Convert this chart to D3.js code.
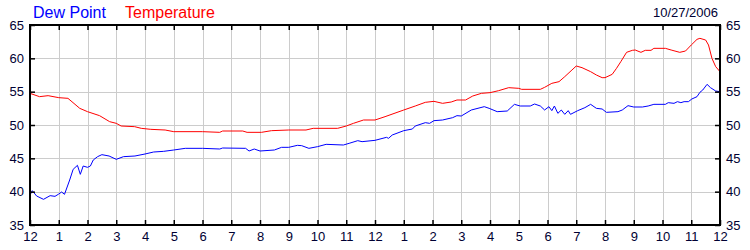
<!DOCTYPE html>
<html>
<head>
<meta charset="utf-8">
<script src="https://cdn.jsdelivr.net/npm/d3@7"></script>
<style>
  body { margin: 0; background: #fff; }
  svg text { font-family: "Liberation Sans", Arial, sans-serif; }
</style>
</head>
<body>
<div id="chart-area"></div>
<script>
// readings: hour of day (0 = midnight) and value in degrees F
var tempHours = [0, 0.33, 0.63, 1, 1.32, 1.73, 2, 2.42, 2.77, 3, 3.17, 3.64, 3.87, 4.2, 4.7, 5, 6,
    6.6, 6.7, 7.4, 7.55, 8.05, 8.4, 9, 9.6, 9.85, 10.7, 11, 11.25, 11.6,
    12, 12.35, 13, 13.4, 13.75, 14.05, 14.35, 14.65, 14.85, 15.15, 15.4, 15.7, 16, 16.3, 16.65, 17, 17.1, 17.75,
    17.9, 18.15, 18.4, 18.6, 18.85, 19, 19.2, 19.5, 19.7, 19.9, 20, 20.25, 20.4, 20.55, 20.75, 20.95, 21.05, 21.25,
    21.4, 21.6, 21.7, 22.1, 22.3, 22.6, 22.8, 23, 23.2, 23.3, 23.5, 23.6, 23.72, 23.85, 24];
var tempValues = [54.75, 54.25, 54.4, 54.1, 54.0, 52.5, 52.0, 51.4, 50.5, 50.25, 49.85, 49.75, 49.5, 49.35, 49.25, 49.0, 49.0,
    48.9, 49.1, 49.1, 48.9, 48.9, 49.15, 49.25, 49.25, 49.5, 49.5, 49.85, 50.25, 50.75,
    50.75, 51.25, 52.25, 52.85, 53.4, 53.55, 53.25, 53.45, 53.75, 53.75, 54.35, 54.75, 54.85, 55.15, 55.6, 55.5, 55.35, 55.35,
    55.65, 56.25, 56.5, 57.25, 58.25, 58.85, 58.6, 58.0, 57.5, 57.1, 57.1, 57.6, 58.5, 59.5, 60.9, 61.2, 61.25, 60.9,
    61.2, 61.2, 61.5, 61.5, 61.25, 60.9, 61.1, 62.0, 62.85, 63.0, 62.75, 62.0, 60.0, 58.75, 58.0];

var dewHours = [0, 0.08, 0.23, 0.47, 0.7, 0.87, 1, 1.1, 1.2, 1.38, 1.5, 1.65, 1.75, 1.85, 2, 2.1, 2.2, 2.35, 2.5, 2.75, 3, 3.25, 3.65, 4, 4.3, 4.65, 5, 5.4, 6,
    6.6, 6.7, 7.5, 7.62, 7.8, 8, 8.5, 8.75, 9, 9.3, 9.45, 9.7, 10, 10.3, 10.9, 11.1, 11.4, 11.55, 12,
    12.4, 12.47, 12.6, 13, 13.3, 13.4, 13.75, 13.9, 14.05, 14.35, 14.7, 14.85, 15, 15.35, 15.8, 15.97, 16.25, 16.6, 16.85, 17.05, 17.4, 17.55, 17.75,
    17.9, 18.05, 18.15, 18.24, 18.36, 18.48, 18.6, 18.72, 18.8, 19.05, 19.3, 19.5, 19.7, 19.9, 20.05, 20.45, 20.6, 20.8, 21, 21.3, 21.5, 21.7, 22.1,
    22.2, 22.4, 22.52, 22.64, 22.75, 22.9, 23.02, 23.2, 23.3, 23.4, 23.55, 23.67, 23.85, 24];
var dewValues = [39.5, 40.15, 39.35, 38.85, 39.4, 39.3, 39.65, 39.95, 39.6, 41.75, 43.35, 43.95, 42.6, 43.85, 43.65, 43.85, 44.75, 45.25, 45.55, 45.35, 44.85, 45.25, 45.35, 45.65, 45.95, 46.05, 46.25, 46.5, 46.5,
    46.4, 46.55, 46.5, 46.1, 46.4, 46.1, 46.25, 46.65, 46.65, 46.95, 46.9, 46.5, 46.75, 47.1, 47.0, 47.25, 47.65, 47.5, 47.7,
    48.15, 48.0, 48.5, 49.15, 49.4, 49.85, 50.35, 50.25, 50.65, 50.75, 51.1, 51.4, 51.35, 52.25, 52.75, 52.5, 52.0, 52.1, 53.1, 52.85, 52.85, 53.15, 52.85,
    52.25, 52.75, 52.15, 52.85, 51.75, 52.25, 51.6, 52.15, 51.6, 52.15, 52.6, 53.1, 52.5, 52.4, 51.9, 52.0, 52.25, 52.9, 52.7, 52.7, 52.85, 53.1, 53.1,
    53.35, 53.25, 53.5, 53.35, 53.5, 53.5, 53.9, 54.25, 54.9, 55.25, 56.1, 55.6, 55.1, 55.0];

var hourTicks = d3.range(0, 25);
var tempTicks = [35, 40, 45, 50, 55, 60, 65];
var dateLabel = "10/27/2006";

var width = 750, height = 250;
var plotLeft = 30, plotRight = 720, plotTop = 25, plotBottom = 225;

var svg = d3.select("#chart-area")
    .append("svg")
    .attr("width", width)
    .attr("height", height);

var x = d3.scaleLinear().domain([0, 24]).range([plotLeft, plotRight]);
var y = d3.scaleLinear().domain([35, 65]).range([plotBottom, plotTop]);

// grid
svg.append("g").selectAll("line")
    .data(hourTicks.slice(1, -1))
    .enter().append("line")
    .attr("x1", d => Math.round(x(d)) + 0.5).attr("x2", d => Math.round(x(d)) + 0.5)
    .attr("y1", plotTop).attr("y2", plotBottom)
    .attr("stroke", "#cccccc");
svg.append("g").selectAll("line")
    .data(tempTicks.slice(1, -1))
    .enter().append("line")
    .attr("y1", d => Math.round(y(d)) + 0.5).attr("y2", d => Math.round(y(d)) + 0.5)
    .attr("x1", plotLeft).attr("x2", plotRight)
    .attr("stroke", "#cccccc");

// series
var line = d3.line()
    .x(d => x(d[0]))
    .y(d => y(d[1]));

svg.append("path")
    .datum(d3.zip(dewHours, dewValues))
    .attr("d", line)
    .attr("fill", "none")
    .attr("stroke", "#0000ff")
    .attr("stroke-width", 1);

svg.append("path")
    .datum(d3.zip(tempHours, tempValues))
    .attr("d", line)
    .attr("fill", "none")
    .attr("stroke", "#ff0000")
    .attr("stroke-width", 1);

// axes
function hourFmt(d) { return (d % 12 === 0) ? "12" : String(d % 12); }

function styleAxis(g) {
    g.select(".domain").remove();
    g.selectAll(".tick line").attr("stroke", "#000").attr("stroke-width", 1.5);
    g.selectAll(".tick text").attr("fill", "#000033").style("font-size", "13px")
        .style("font-family", "'Liberation Sans', Arial, sans-serif");
}

svg.append("g")
    .attr("transform", "translate(0," + plotBottom + ")")
    .call(d3.axisBottom(x).tickValues(hourTicks).tickFormat(hourFmt).tickSizeInner(-5).tickSizeOuter(0).tickPadding(7))
    .call(styleAxis);

svg.append("g")
    .attr("transform", "translate(0," + plotTop + ")")
    .call(d3.axisTop(x).tickValues(hourTicks).tickFormat("").tickSizeInner(-5).tickSizeOuter(0))
    .call(styleAxis);

svg.append("g")
    .attr("transform", "translate(" + plotLeft + ",0)")
    .call(d3.axisLeft(y).tickValues(tempTicks).tickSizeInner(-5).tickSizeOuter(0).tickPadding(6))
    .call(styleAxis);

svg.append("g")
    .attr("transform", "translate(" + plotRight + ",0)")
    .call(d3.axisRight(y).tickValues(tempTicks).tickSizeInner(-5).tickSizeOuter(0).tickPadding(6))
    .call(styleAxis);

// frame
svg.append("rect")
    .attr("x", plotLeft).attr("y", plotTop)
    .attr("width", plotRight - plotLeft).attr("height", plotBottom - plotTop)
    .attr("fill", "none")
    .attr("stroke", "#000")
    .attr("stroke-width", 2);

// legend + date
svg.append("text").attr("x", 33).attr("y", 18)
    .attr("fill", "#0000ff").style("font-size", "16px").text("Dew Point");
svg.append("text").attr("x", 125).attr("y", 18)
    .attr("fill", "#ff0000").style("font-size", "16px").text("Temperature");
svg.append("text").attr("x", 718).attr("y", 17)
    .attr("text-anchor", "end")
    .attr("fill", "#000033").style("font-size", "13px").text(dateLabel);
</script>
</body>
</html>
